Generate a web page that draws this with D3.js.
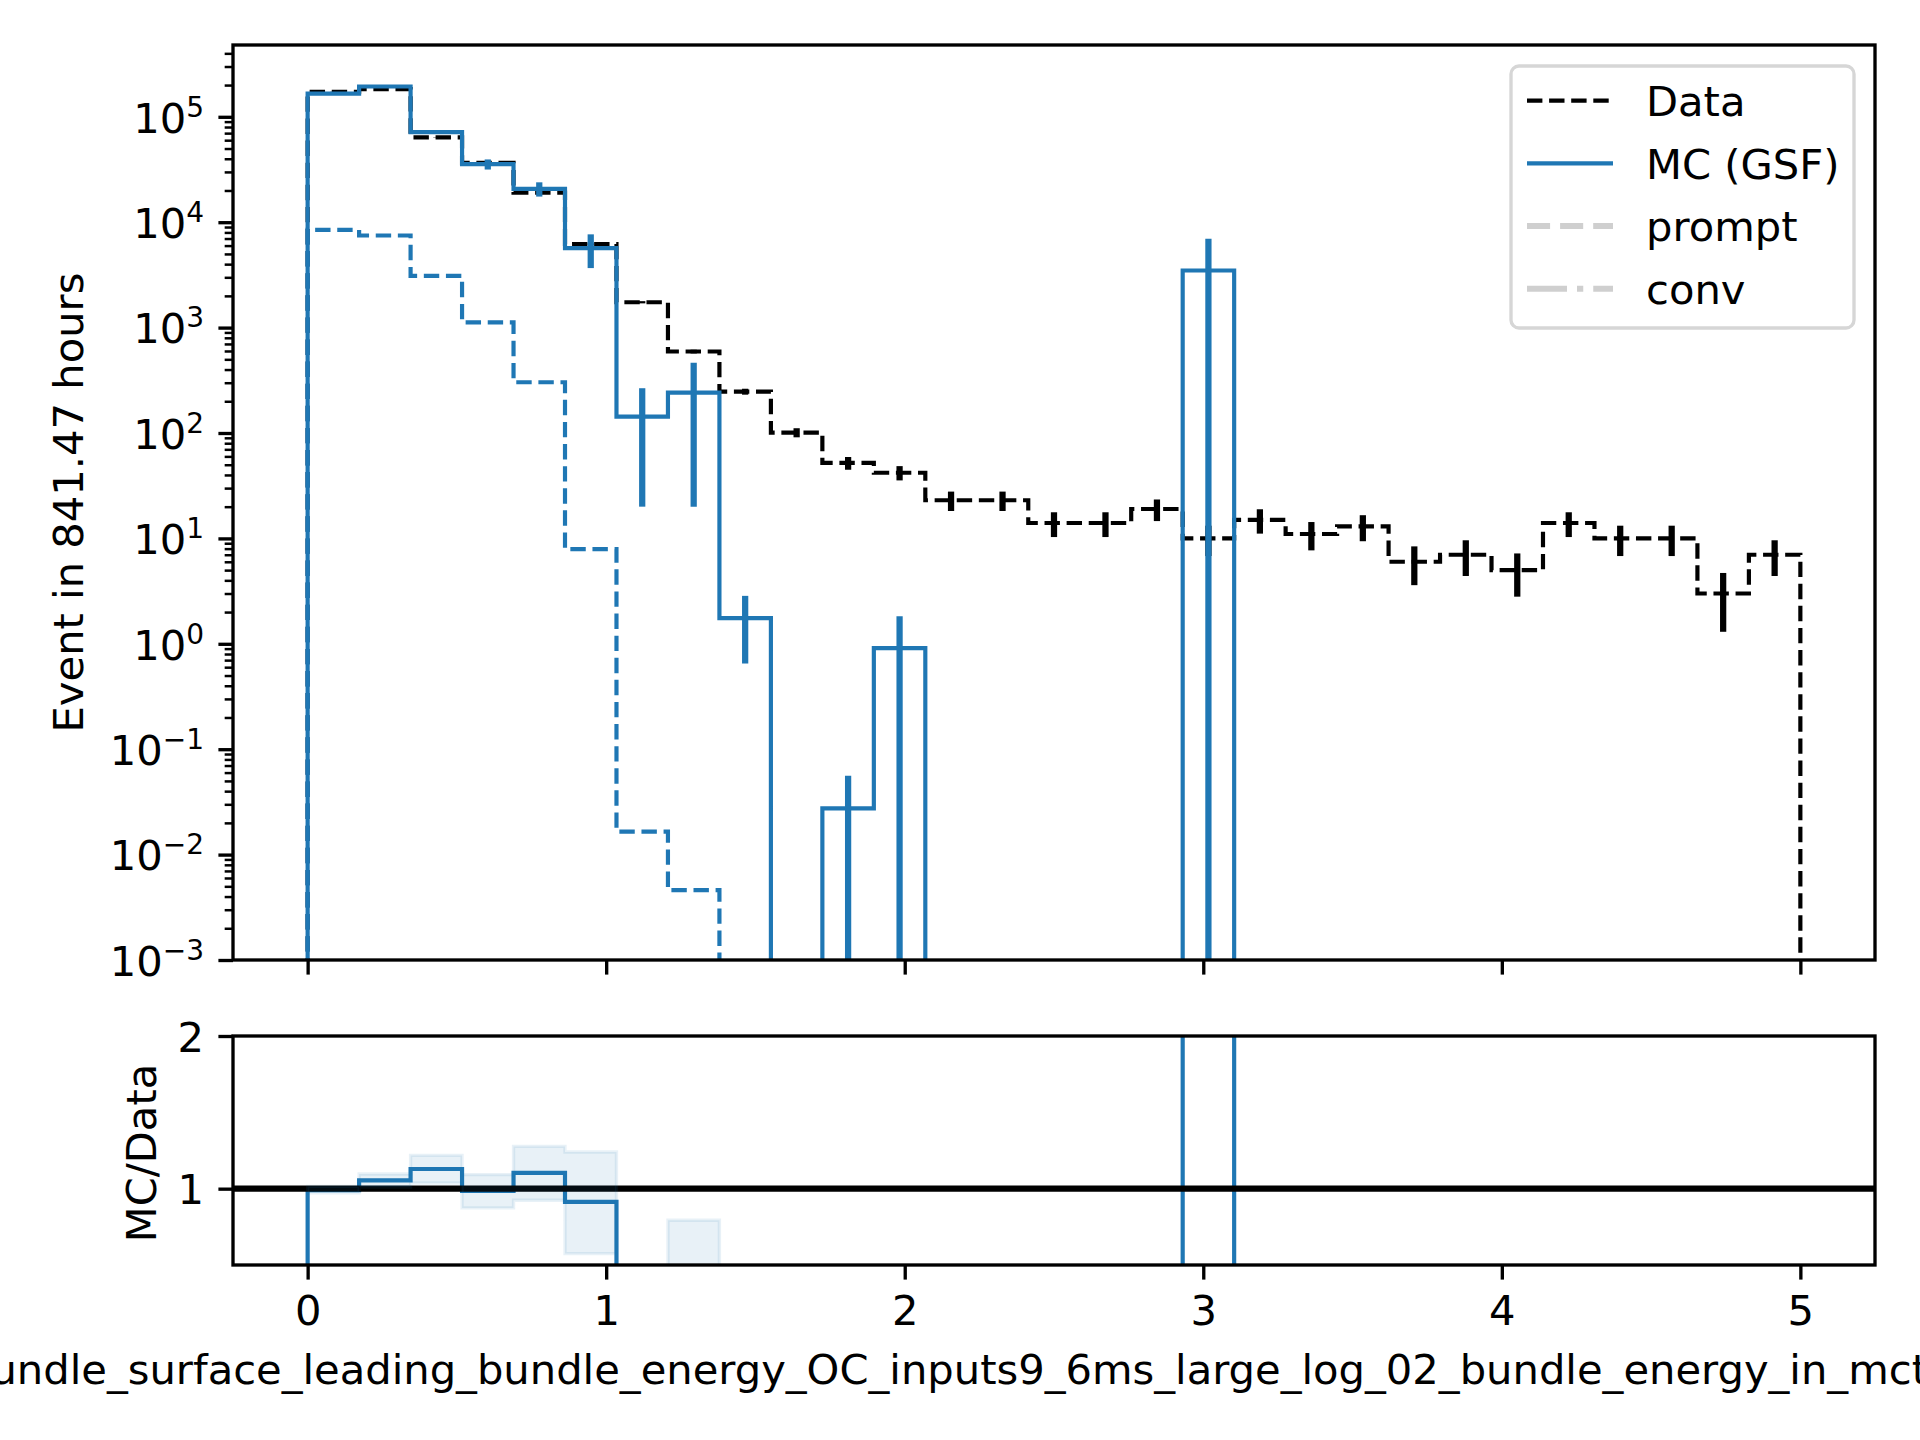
<!DOCTYPE html>
<html>
<head>
<meta charset="utf-8">
<script src="https://cdnjs.cloudflare.com/ajax/libs/d3/7.8.5/d3.min.js"></script>
<style>
  body { margin: 0; background: #fff; }
  svg { display: block; background: #fff; font-family: "DejaVu Sans", sans-serif; }
</style>
</head>
<body>
<div id="chart"></div>
<script>
// histogram binning (29 equal bins from 0 to 5)
const nBins = 29, xLo = 0, xHi = 5;

// data counts and their errors
const dataCounts = [173000, 183000, 63700, 36500, 19100, 6200, 1740, 593, 247, 101, 52, 42, 23, 23, 14, 14, 19, 10, 15, 11, 13, 6, 7, 5, 14, 10, 10, 3, 7];
const dataErr    = [416, 428, 252, 191, 138, 79, 42, 24, 16, 10, 7.2, 6.5, 4.8, 4.8, 3.7, 3.7, 4.4, 3.2, 3.9, 3.3, 3.6, 2.4, 2.6, 2.2, 3.7, 3.2, 3.2, 1.7, 2.6];

// MC (GSF) total and errors
const mcTotal = [166000, 194000, 71600, 35500, 20700, 5670, 143, 242, 1.75, 0, 0.0275, 0.91, 0, 0, 0, 0, 0, 3480, 0, 0, 0, 0, 0, 0, 0, 0, 0, 0, 0];
const mcErr   = [700, 800, 1500, 3900, 3200, 2000, 123, 222, 1.1, 0, 0.0285, 0.92, 0, 0, 0, 0, 0, 3500, 0, 0, 0, 0, 0, 0, 0, 0, 0, 0, 0];

// MC component (blue dashed)
const mcPrompt = [8470, 7480, 3100, 1120, 303, 7.9, 0.0165, 0.0046, 0, 0, 0, 0, 0, 0, 0, 0, 0, 0, 0, 0, 0, 0, 0, 0, 0, 0, 0, 0, 0];

// MC/Data ratio and its band
const ratio   = [0.99, 1.054, 1.129, 0.985, 1.103, 0.913, 0.082, 0.41, 0.007, 0, 0.0005, 0.022, 0, 0, 0, 0, 0, 348, 0, 0, 0, 0, 0, 0, 0, 0, 0, 0, 0];
const ratioLo = [0.972, 1.011, 1.037, 0.874, 0.924, 0.575, 0.012, 0.04, null, null, null, null, null, null, null, null, null, null, null, null, null, null, null, null, null, null, null, null, null];
const ratioHi = [1.015, 1.096, 1.218, 1.092, 1.277, 1.24, 0.152, 0.793, null, null, null, null, null, null, null, null, null, null, null, null, null, null, null, null, null, null, null, null, null];

// ticks and labels
const xTicks = [0, 1, 2, 3, 4, 5];
const yMajorExp = [-3, -2, -1, 0, 1, 2, 3, 4, 5];
const ratioTicks = [1, 2];
const legendLabels = ["Data", "MC (GSF)", "prompt", "conv"];
const yLabelTop = "Event in 841.47 hours";
const yLabelBottom = "MC/Data";
const xLabel = "bundle_surface_leading_bundle_energy_OC_inputs9_6ms_large_log_02_bundle_energy_in_mctree_tracks";

// ---- layout ----
const W = 1920, H = 1440;
const axL = 233, axR = 1875;
const top1 = 45, bot1 = 960;
const top2 = 1036, bot2 = 1265;
const FS = 41.67;
const BLUE = "#1f77b4";
const LW = 4.17, LW_ERR = 6.25, LW_AX = 3.33;
const DASH = "15.4,6.7";

const svg = d3.select("#chart").append("svg")
    .attr("width", W).attr("height", H);

const x = d3.scaleLinear().domain([-0.25, 5.25]).range([axL, axR]);
const y = d3.scaleLog().domain([1e-3, 4.8e5]).range([bot1, top1]);
const yr = d3.scaleLinear().domain([0.5, 2]).range([bot2, top2]);

const edges = d3.range(nBins + 1).map(i => xLo + (xHi - xLo) * i / nBins);
const centers = d3.range(nBins).map(i => (edges[i] + edges[i + 1]) / 2);

function stepPoints(vals) {
  const pts = [[edges[0], 0]];
  vals.forEach((v, i) => { pts.push([edges[i], v], [edges[i + 1], v]); });
  pts.push([edges[nBins], 0]);
  return pts;
}
const yTop = v => v > 0 ? y(v) : bot1 + 80;
const lineTop = d3.line().x(d => x(d[0])).y(d => yTop(d[1]));
const lineRatio = d3.line().x(d => x(d[0])).y(d => d[1] > 0 ? yr(d[1]) : bot2 + 80);

// clip paths
const defs = svg.append("defs");
defs.append("clipPath").attr("id", "clipTop").append("rect")
    .attr("x", axL).attr("y", top1).attr("width", axR - axL).attr("height", bot1 - top1);
defs.append("clipPath").attr("id", "clipBot").append("rect")
    .attr("x", axL).attr("y", top2).attr("width", axR - axL).attr("height", bot2 - top2);

// ================= top panel =================
const gTop = svg.append("g").attr("clip-path", "url(#clipTop)");

// data
gTop.append("path")
    .attr("d", lineTop(stepPoints(dataCounts)))
    .attr("fill", "none").attr("stroke", "#000")
    .attr("stroke-width", LW).attr("stroke-dasharray", DASH);

gTop.selectAll("line.derr")
  .data(d3.range(nBins).filter(i => dataCounts[i] > 0))
  .join("line")
    .attr("class", "derr")
    .attr("x1", i => x(centers[i])).attr("x2", i => x(centers[i]))
    .attr("y1", i => yTop(dataCounts[i] + dataErr[i]))
    .attr("y2", i => yTop(dataCounts[i] - dataErr[i]))
    .attr("stroke", "#000").attr("stroke-width", LW_ERR);

// MC total
gTop.append("path")
    .attr("d", lineTop(stepPoints(mcTotal)))
    .attr("fill", "none").attr("stroke", BLUE).attr("stroke-width", LW);

gTop.selectAll("line.merr")
  .data(d3.range(nBins).filter(i => mcTotal[i] > 0))
  .join("line")
    .attr("class", "merr")
    .attr("x1", i => x(centers[i])).attr("x2", i => x(centers[i]))
    .attr("y1", i => yTop(mcTotal[i] + mcErr[i]))
    .attr("y2", i => yTop(mcTotal[i] - mcErr[i]))
    .attr("stroke", BLUE).attr("stroke-width", LW_ERR);

// MC component
gTop.append("path")
    .attr("d", lineTop(stepPoints(mcPrompt)))
    .attr("fill", "none").attr("stroke", BLUE)
    .attr("stroke-width", LW).attr("stroke-dasharray", DASH);

// axes top
function styleAxis(g) {
  g.select(".domain").remove();
  g.attr("font-family", "DejaVu Sans").attr("font-size", FS);
  g.selectAll(".tick line").attr("stroke", "#000").attr("stroke-width", LW_AX);
  g.selectAll(".tick text").attr("fill", "#000");
}

svg.append("g")
    .attr("transform", `translate(0,${bot1})`)
    .call(d3.axisBottom(x).tickValues(xTicks).tickSize(14.6).tickFormat(""))
    .call(styleAxis);

const minorVals = [];
yMajorExp.forEach(k => { for (let m = 2; m <= 9; m++) { const v = m * Math.pow(10, k); if (v <= 4.8e5) minorVals.push(v); } });

svg.append("g")
    .attr("transform", `translate(${axL},0)`)
    .call(d3.axisLeft(y).tickValues(minorVals).tickSize(8.33).tickFormat(""))
    .call(styleAxis)
    .selectAll(".tick line").attr("stroke-width", 2.5);

const yAxisTop = svg.append("g")
    .attr("transform", `translate(${axL},0)`)
    .call(d3.axisLeft(y).tickValues(yMajorExp.map(k => Math.pow(10, k))).tickSize(14.6).tickPadding(14.4))
    .call(styleAxis);

yAxisTop.selectAll(".tick text").each(function(d) {
  const k = Math.round(Math.log10(d));
  const t = d3.select(this).text(null).attr("dy", "15.2px");
  t.append("tspan").text("10");
  t.append("tspan").attr("font-size", 28).attr("dy", -16)
    .text(k < 0 ? "\u2212" + (-k) : String(k));
});

svg.append("rect")
    .attr("x", axL).attr("y", top1).attr("width", axR - axL).attr("height", bot1 - top1)
    .attr("fill", "none").attr("stroke", "#000").attr("stroke-width", LW_AX);

svg.append("text")
    .attr("transform", `translate(83,${(top1 + bot1) / 2}) rotate(-90)`)
    .attr("text-anchor", "middle").attr("font-size", FS)
    .text(yLabelTop);

// legend
const legendStyles = [
  { stroke: "#000", width: LW, dash: DASH },
  { stroke: BLUE, width: LW, dash: null },
  { stroke: "#cfcfcf", width: 6, dash: "23.1,10" },
  { stroke: "#cfcfcf", width: 6, dash: "40,10,6.25,10" }
];
const gLeg = svg.append("g");
gLeg.append("rect")
    .attr("x", 1511).attr("y", 66).attr("width", 343).attr("height", 262).attr("rx", 8)
    .attr("fill", "#fff").attr("fill-opacity", 0.8)
    .attr("stroke", "#d6d6d6").attr("stroke-width", LW_AX);
const legRow = gLeg.selectAll("g.row").data(legendLabels).join("g")
    .attr("class", "row")
    .attr("transform", (d, i) => `translate(0,${100.7 + i * 62.7})`);
legRow.append("line")
    .attr("x1", 1527).attr("x2", 1613)
    .attr("stroke", (d, i) => legendStyles[i].stroke)
    .attr("stroke-width", (d, i) => legendStyles[i].width)
    .attr("stroke-dasharray", (d, i) => legendStyles[i].dash);
legRow.append("text")
    .attr("x", 1646).attr("y", 15.3)
    .attr("font-size", FS)
    .text(d => d);

// ================= bottom panel =================
const gBot = svg.append("g").attr("clip-path", "url(#clipBot)");

gBot.append("path")
    .attr("d", lineRatio(stepPoints(ratio)))
    .attr("fill", "none").attr("stroke", BLUE).attr("stroke-width", LW);

gBot.append("line")
    .attr("x1", axL).attr("x2", axR)
    .attr("y1", yr(1)).attr("y2", yr(1))
    .attr("stroke", "#000").attr("stroke-width", LW_ERR);

const bandPts = [];
d3.range(nBins).forEach(i => {
  bandPts.push({ x: edges[i], lo: ratioLo[i], hi: ratioHi[i] });
  bandPts.push({ x: edges[i + 1], lo: ratioLo[i], hi: ratioHi[i] });
});
const area = d3.area()
    .defined(d => d.lo != null)
    .x(d => x(d.x))
    .y0(d => yr(d.lo))
    .y1(d => yr(d.hi));
gBot.append("path")
    .attr("d", area(bandPts))
    .attr("fill", BLUE).attr("fill-opacity", 0.1)
    .attr("stroke", BLUE).attr("stroke-opacity", 0.1).attr("stroke-width", LW_AX);

svg.append("g")
    .attr("transform", `translate(0,${bot2})`)
    .call(d3.axisBottom(x).tickValues(xTicks).tickSize(14.6).tickPadding(15.8).tickFormat(d3.format("d")))
    .call(styleAxis);

svg.append("g")
    .attr("transform", `translate(${axL},0)`)
    .call(d3.axisLeft(yr).tickValues(ratioTicks).tickSize(14.6).tickPadding(14.4).tickFormat(d3.format("d")))
    .call(styleAxis)
    .selectAll(".tick text").attr("dy", "15.2px");

svg.append("rect")
    .attr("x", axL).attr("y", top2).attr("width", axR - axL).attr("height", bot2 - top2)
    .attr("fill", "none").attr("stroke", "#000").attr("stroke-width", LW_AX);

svg.append("text")
    .attr("transform", `translate(156,1153) rotate(-90)`)
    .attr("text-anchor", "middle").attr("font-size", FS)
    .text(yLabelBottom);

svg.append("text")
    .attr("x", (axL + axR) / 2).attr("y", 1384)
    .attr("text-anchor", "middle").attr("font-size", FS)
    .text(xLabel);
</script>
</body>
</html>
